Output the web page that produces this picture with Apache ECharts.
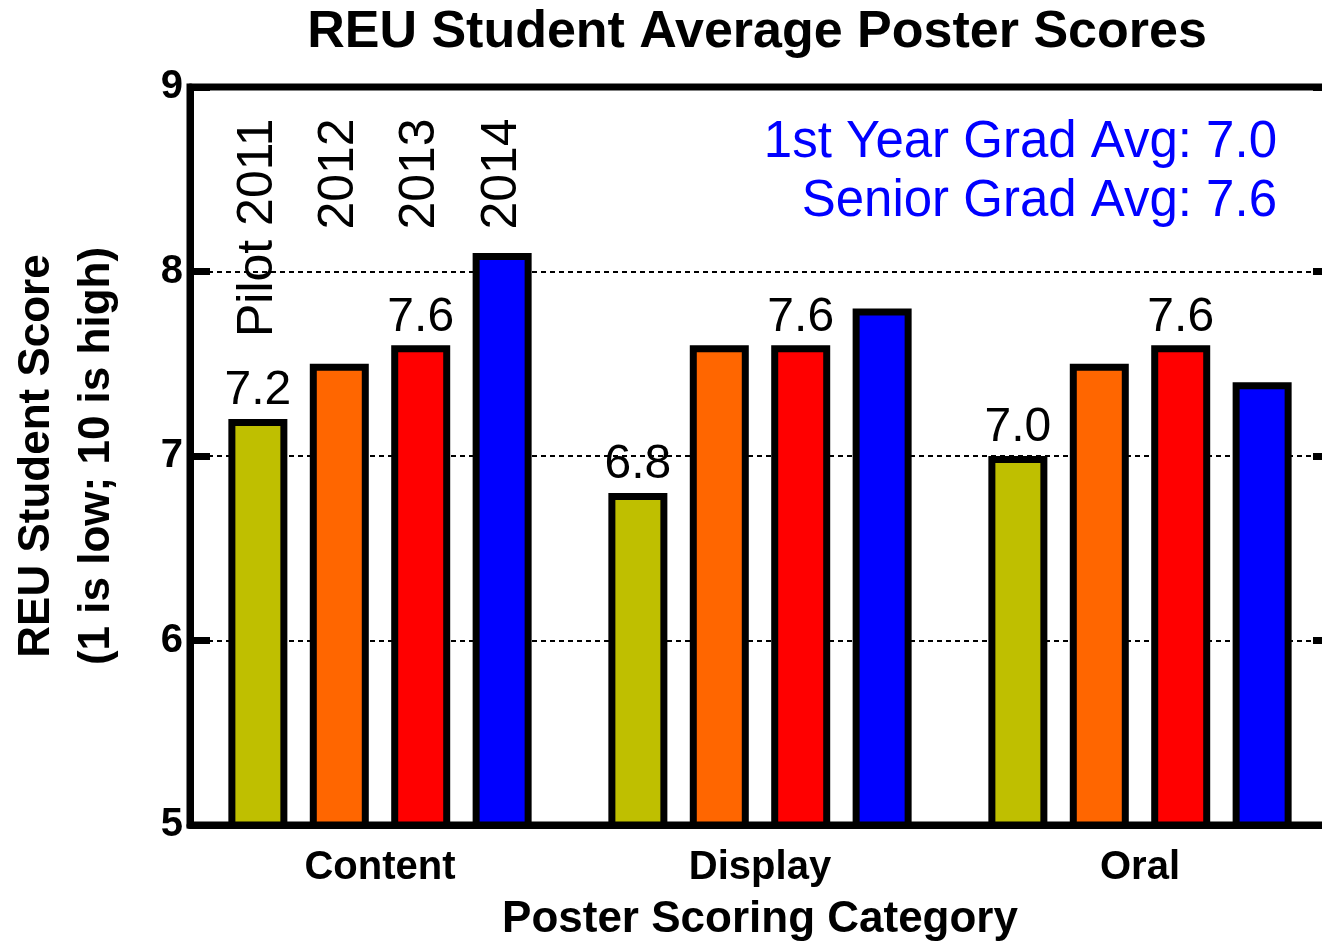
<!DOCTYPE html>
<html><head><meta charset="utf-8">
<script src="https://cdn.jsdelivr.net/npm/echarts@6/dist/echarts.min.js"></script>
<style>html,body{margin:0;padding:0;background:#fff}#c{width:1322px;height:945px}</style>
</head><body><div id="c"></div>
<script>
const categories = ['Content', 'Display', 'Oral'];
const seriesNames = ['Pilot 2011', '2012', '2013', '2014'];
const pilot2011 = [7.2, 6.8, 7.0];
const y2012 = [7.5, 7.6, 7.5];
const y2013 = [7.6, 7.6, 7.6];
const y2014 = [8.1, 7.8, 7.4];
const showValueLabel = [true, false, true, false];
const yTicks = [5, 6, 7, 8, 9];
const annotationLines = ['1st Year Grad Avg: 7.0', 'Senior Grad Avg: 7.6'];
const titleText = 'REU Student Average Poster Scores';
const yAxisTitle = 'REU Student Score\n(1 is low; 10 is high)';
const xAxisTitle = 'Poster Scoring Category';
const yearLabelValue = 8.83;

const colors = ['#BFBF00', '#FF6600', '#FF0000', '#0000FF'];
const FONT = '"Liberation Sans", Arial, sans-serif';
const values = [pilot2011, y2012, y2013, y2014];

const chart = echarts.init(document.getElementById('c'), null, {renderer: 'canvas'});

const series = seriesNames.map((name, i) => ({
  name: name,
  type: 'bar',
  data: values[i],
  barWidth: 59,
  barGap: '38%',
  itemStyle: {color: colors[i], borderColor: '#000', borderWidth: 7},
  label: {
    show: showValueLabel[i],
    position: 'top',
    distance: 4,
    color: '#000',
    fontFamily: FONT,
    fontSize: 48,
    formatter: p => p.value.toFixed(1)
  },
  emphasis: {disabled: true},
  markPoint: {
    symbol: 'circle',
    symbolSize: 1,
    itemStyle: {color: 'rgba(0,0,0,0)'},
    label: {
      show: true,
      rotate: 90,
      align: 'right',
      verticalAlign: 'middle',
      color: '#000',
      fontFamily: FONT,
      fontSize: 50,
      formatter: () => name
    },
    data: [{coord: [categories[0], yearLabelValue]}]
  }
}));

chart.setOption({
  animation: false,
  backgroundColor: '#fff',
  grid: {left: 190, top: 87, right: -8, bottom: 120, outerBoundsMode: 'none', containLabel: false,
         show: true, borderColor: '#000', borderWidth: 7, backgroundColor: 'transparent'},
  xAxis: {
    type: 'category',
    data: categories,
    axisLine: {lineStyle: {color: '#000', width: 7}},
    axisTick: {show: false},
    axisLabel: {color: '#000', fontFamily: FONT, fontWeight: 'bold', fontSize: 40, margin: 23},
    name: xAxisTitle,
    nameLocation: 'middle',
    nameGap: 73,
    nameTextStyle: {color: '#000', fontFamily: FONT, fontWeight: 'bold', fontSize: 44}
  },
  yAxis: [{
    type: 'value',
    min: yTicks[0], max: yTicks[yTicks.length - 1], interval: 1,
    axisLine: {show: true, lineStyle: {color: '#000', width: 7}},
    axisTick: {show: true, inside: true, length: 20, lineStyle: {color: '#000', width: 7}},
    axisLabel: {color: '#000', fontFamily: FONT, fontWeight: 'bold', fontSize: 40, margin: 7},
    splitLine: {show: true, lineStyle: {color: '#000', width: 2, type: [5, 4]}},
    name: yAxisTitle,
    nameLocation: 'middle',
    nameGap: 63,
    nameRotate: 90,
    nameTextStyle: {color: '#000', fontFamily: FONT, fontWeight: 'bold', fontSize: 44, lineHeight: 60}
  }, {
    type: 'value',
    position: 'right',
    min: yTicks[0], max: yTicks[yTicks.length - 1], interval: 1,
    axisLine: {show: true, lineStyle: {color: '#000', width: 7}},
    axisTick: {show: true, inside: true, length: 17, lineStyle: {color: '#000', width: 7}},
    axisLabel: {show: false},
    splitLine: {show: false}
  }],
  graphic: [{
    type: 'text',
    x: 757, y: 33,
    style: {text: titleText, fill: '#000', font: 'bold 52px ' + FONT, textAlign: 'center', textVerticalAlign: 'middle'}
  }, {
    type: 'text',
    x: 1277, y: 143,
    style: {text: annotationLines[0], fill: '#0000FF', font: '51px ' + FONT, textAlign: 'right', textVerticalAlign: 'middle'}
  }, {
    type: 'text',
    x: 1277, y: 202,
    style: {text: annotationLines[1], fill: '#0000FF', font: '51px ' + FONT, textAlign: 'right', textVerticalAlign: 'middle'}
  }],
  series: series
});
</script>
</body></html>
